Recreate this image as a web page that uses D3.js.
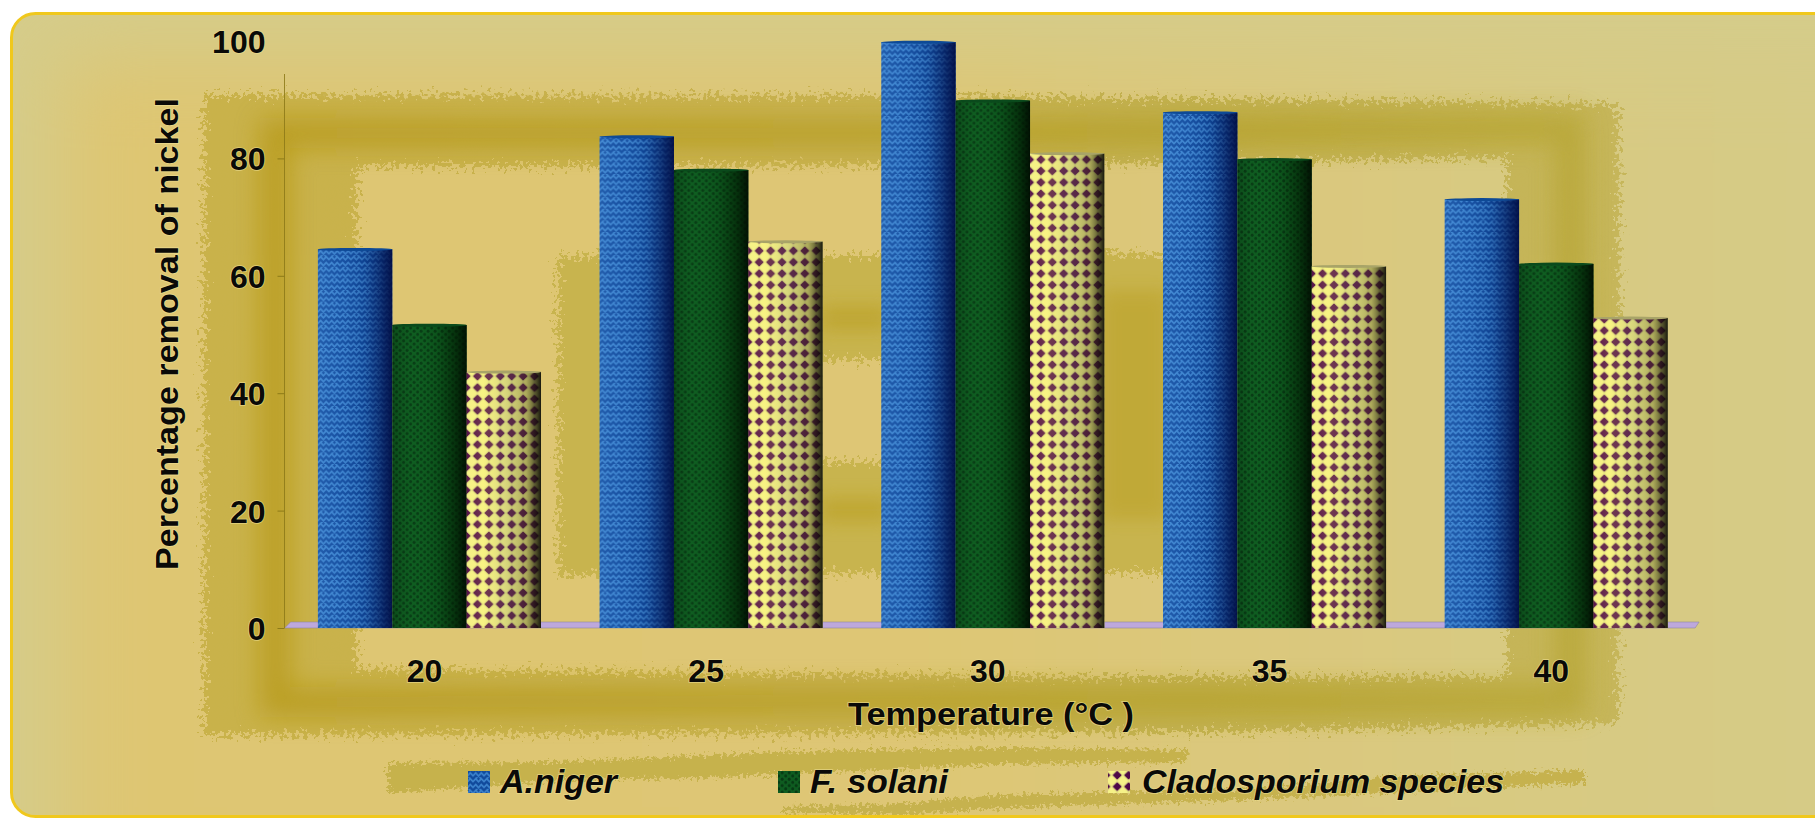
<!DOCTYPE html>
<html><head><meta charset="utf-8">
<script src="https://cdn.jsdelivr.net/npm/d3@7/dist/d3.min.js"></script>
<style>html,body{margin:0;padding:0;background:#fff;overflow:hidden}svg{display:block}
text{font-family:"Liberation Sans",Arial,sans-serif;font-weight:bold;fill:#0a0a08}</style>
</head><body><svg id="c" width="1815" height="821"></svg>
<script>
const temperatures = ["20","25","30","35","40"];
const seriesNames = ["A.niger","F. solani","Cladosporium species"];
const aNiger = [64.7,83.9,100,88,73.2];
const fSolani = [51.8,78.2,90,80,62.2];
const cladosporium = [43.8,66,81,61.8,53];
const yTicks = [0,20,40,60,80,100];
const yTitle = "Percentage removal of nickel";
const xTitle = "Temperature (°C )";
const allSeries = [aNiger,fSolani,cladosporium];

const svg = d3.select("#c"), defs = svg.append("defs");

// ---- gradients
function grad(id,stops,attrs){const g=defs.append("linearGradient").attr("id",id).attr("gradientUnits",attrs?"userSpaceOnUse":"objectBoundingBox");
  if(attrs)Object.entries(attrs).forEach(([k,v])=>g.attr(k,v));
  stops.forEach(s=>g.append("stop").attr("offset",s[0]).attr("stop-color",s[1]).attr("stop-opacity",s[2]===undefined?1:s[2]));}
grad("inner",[[0,"#dec672"],[.5,"#dec674"],[.78,"#d9c980"],[1,"#d6cb86"]],{x1:0,x2:1815,y1:0,y2:0});
grad("band",[[0,"#c9b24a"],[.45,"#c8b250"],[.7,"#c2b150"],[1,"#c6b65a"]],{x1:200,x2:1620,y1:0,y2:0});
grad("bandDark",[[0,"#b3930f"],[.5,"#b39a1c"],[1,"#b3a22a"]],{x1:200,x2:1620,y1:0,y2:0});
grad("shade0",[[0,"#70b0f0",.18],[.3,"#60a0f0",.1],[.6,"#001a60",.15],[.85,"#00114d",.65],[1,"#000a40",.92]]);
grad("shade1",[[0,"#000000",.2],[.3,"#208030",.05],[.6,"#002000",.15],[.85,"#001500",.6],[1,"#000800",.88]]);
grad("shade2",[[0,"#f6f070",.05],[.22,"#fff870",.2],[.5,"#8a9060",.25],[.8,"#404018",.4],[1,"#000000",.9]]);

// ---- bar textures
const p0=defs.append("pattern").attr("id","tex0").attr("patternUnits","userSpaceOnUse").attr("width",11).attr("height",11.6);
p0.append("rect").attr("width",11).attr("height",11.6).attr("fill","#114a9c");
p0.append("path").attr("d","M-1 5.5L2.75 1.5L5.5 4.6L8.25 1.5L12 5.5M-1 11.3L2.75 7.3L5.5 10.4L8.25 7.3L12 11.3M2.75 1.5L5.5 -1.4L8.25 1.5")
  .attr("fill","none").attr("stroke","#3b82cc").attr("stroke-width",1.7);
const p1=defs.append("pattern").attr("id","tex1").attr("patternUnits","userSpaceOnUse").attr("width",7).attr("height",6.4);
p1.append("rect").attr("width",7).attr("height",6.4).attr("fill","#0e5c20");
[[1.7,1.6],[5.2,4.8]].forEach(d=>p1.append("circle").attr("cx",d[0]).attr("cy",d[1]).attr("r",1.5).attr("fill","#073a14"));
const P=11.4,H=P/2;
const p2=defs.append("pattern").attr("id","tex2").attr("patternUnits","userSpaceOnUse").attr("width",P).attr("height",P);
p2.append("rect").attr("width",P).attr("height",P).attr("fill","#e4e084");
const dia=(cx,cy,r)=>`M${cx-r} ${cy}L${cx} ${cy-r}L${cx+r} ${cy}L${cx} ${cy+r}Z`;
p2.append("path").attr("d",dia(H,H,5.2)).attr("fill","#f6f288");
[[0,0],[P,0],[0,P],[P,P]].forEach(d=>p2.append("path").attr("d",dia(d[0],d[1],3.7)).attr("fill","#4e0848").attr("stroke","#4e0848").attr("stroke-width",1.2).attr("stroke-linejoin","round"));

// ---- filters
function rough(id,f,s){const r=defs.append("filter").attr("id",id).attr("filterUnits","userSpaceOnUse").attr("x",0).attr("y",0).attr("width",1815).attr("height",821).attr("color-interpolation-filters","sRGB");
  r.append("feTurbulence").attr("type","fractalNoise").attr("baseFrequency",f).attr("numOctaves",4).attr("seed",7).attr("result","n");
  r.append("feDisplacementMap").attr("in","SourceGraphic").attr("in2","n").attr("scale",s).attr("xChannelSelector","R").attr("yChannelSelector","G");}
rough("rough",.25,32); rough("roughSm",.3,15);
[["b40",40],["b12",12],["b9",9]].forEach(b=>defs.append("filter").attr("id",b[0]).attr("filterUnits","userSpaceOnUse").attr("x",-100).attr("y",-100).attr("width",2100).attr("height",1100).append("feGaussianBlur").attr("stdDeviation",b[1]));

// ---- panel
const ringPath="M204 95L960 96L1618 104L1620 330L1618 723L1210 732L204 735Z M357 166L700 166L1100 164L1507 158L1507 677L1100 677L357 669Z";
const blobPath="M558 256L880 256L1100 252L1180 256L1180 573L880 573L558 575Z M700 360L1000 360L1000 462L700 462Z";
svg.append("rect").attr("x",11.5).attr("y",13.5).attr("width",1830).attr("height",803).attr("rx",24)
  .attr("fill","#d5cc8a").attr("stroke","#f0c81c").attr("stroke-width",3);
defs.append("clipPath").attr("id","pc").append("rect").attr("x",13).attr("y",15).attr("width",1830).attr("height",800).attr("rx",22);
const bg=svg.append("g").attr("clip-path","url(#pc)");
bg.append("rect").attr("x",60).attr("y",55).attr("width",1900).attr("height",860).attr("fill","url(#inner)").attr("filter","url(#b40)");
bg.append("path").attr("d",blobPath).attr("fill-rule","evenodd").attr("fill","#c8b44e").attr("filter","url(#rough)");
bg.append("rect").attr("x",820).attr("y",305).attr("width",70).attr("height",26).attr("fill","#b89c1e").attr("opacity",.55).attr("filter","url(#b9)");
bg.append("rect").attr("x",820).attr("y",498).attr("width",70).attr("height",24).attr("fill","#b89c1e").attr("opacity",.55).attr("filter","url(#b9)");
bg.append("rect").attr("x",1100).attr("y",290).attr("width",70).attr("height",230).attr("fill","#b89c1e").attr("opacity",.45).attr("filter","url(#b9)");
bg.append("path").attr("d",ringPath).attr("fill-rule","evenodd").attr("fill","url(#band)").attr("filter","url(#rough)");
bg.append("path").attr("d","M275 133L960 133L1570 128L1570 700L275 702Z").attr("fill","none").attr("stroke","url(#bandDark)").attr("stroke-width",30).attr("opacity",.62).attr("filter","url(#b12)");
// legend brush strokes
bg.append("path").attr("d","M388 763L560 762L800 751L1000 748L1187 750L1186 762L1000 764L880 770L700 778L560 780L388 793Z").attr("fill","#c6b24c").attr("filter","url(#roughSm)");
bg.append("path").attr("d","M783 807L900 804L1000 795L1240 790L1383 777L1585 770L1585 783L1383 793L1240 800L1000 808L900 815L783 812Z").attr("fill","#c6b24e").attr("filter","url(#roughSm)");

// ---- scales
const x=d3.scaleBand().domain(temperatures).range([288.6,1697.1]).paddingInner(.208).paddingOuter(.104);
const xs=d3.scaleBand().domain(d3.range(3)).range([0,x.bandwidth()]);
const y=d3.scaleLinear().domain([0,100]).range([628,41]);

// ---- floor
svg.append("path").attr("d",`M${x.range()[0]-4} ${y(0)}L${x.range()[0]+2} ${y(0)-6}L${x.range()[1]+2} ${y(0)-6}L${x.range()[1]-2} ${y(0)}Z`)
  .attr("fill","#bda8dc").attr("stroke","#8f86a0").attr("stroke-width",.6);

// ---- axes
const halo=s=>s.style("paint-order","stroke").attr("stroke","#ecdc90").attr("stroke-width",1.6).attr("stroke-opacity",.75);
const gy=svg.append("g").attr("transform","translate(284.5,0)")
  .call(d3.axisLeft(y).tickValues(yTicks).tickSize(7).tickPadding(12));
gy.select(".domain").remove();
gy.selectAll("line").attr("stroke","#8d7a18").attr("stroke-width",1);
gy.selectAll("text").style("font-size","32px").style("font-family","Liberation Sans").attr("dy","0.36em").call(halo);
gy.select(".tick:last-child line").remove();
svg.append("line").attr("x1",284.5).attr("x2",284.5).attr("y1",74).attr("y2",y(0)).attr("stroke","#8d7a18").attr("stroke-width",1).attr("opacity",.85);

const gx=svg.append("g").attr("transform",`translate(-5,${y(0)+1})`)
  .call(d3.axisBottom(x).tickSize(0).tickPadding(30));
gx.select(".domain").remove();
gx.selectAll("text").style("font-size","32px").style("font-family","Liberation Sans").call(halo);

// ---- bars
const groups=svg.selectAll("g.grp").data(temperatures).join("g").attr("class","grp").attr("transform",d=>`translate(${x(d)},0)`);
allSeries.forEach((vals,si)=>{
  const bars=groups.append("g");
  const bx=xs(si), w=xs.bandwidth();
  bars.append("rect").attr("x",bx).attr("width",w).attr("y",(d,i)=>y(vals[i])+1).attr("height",(d,i)=>y(0)-y(vals[i])-1).attr("fill",`url(#tex${si})`);
  bars.append("rect").attr("x",bx).attr("width",w).attr("y",(d,i)=>y(vals[i])+1).attr("height",(d,i)=>y(0)-y(vals[i])-1).attr("fill",`url(#shade${si})`);
  bars.append("ellipse").attr("cx",bx+w/2).attr("rx",w/2).attr("ry",1.5).attr("cy",(d,i)=>y(vals[i])+1.2)
    .attr("fill",["#0e4a96","#0a4a1c","#a8a468"][si]);
});

// ---- titles
svg.append("text").attr("transform","translate(178,334) rotate(-90)").attr("text-anchor","middle").style("font-size","31px").attr("textLength",472).attr("lengthAdjust","spacingAndGlyphs").text(yTitle).call(halo);
svg.append("text").attr("x",991).attr("y",725).attr("text-anchor","middle").style("font-size","32px").attr("textLength",286).attr("lengthAdjust","spacingAndGlyphs").text(xTitle).call(halo);

// ---- legend
const legSwatch=[468,778,1108], legText=[500,810,1142], legW=[117,138,362];
seriesNames.forEach((n,i)=>{
  svg.append("rect").attr("x",legSwatch[i]).attr("y",771).attr("width",22).attr("height",22).attr("fill",`url(#tex${i})`);
  svg.append("text").attr("x",legText[i]).attr("y",793).style("font-size","33px").style("font-style","italic").attr("textLength",legW[i]).attr("lengthAdjust","spacingAndGlyphs").text(n).call(halo);
});
</script></body></html>
